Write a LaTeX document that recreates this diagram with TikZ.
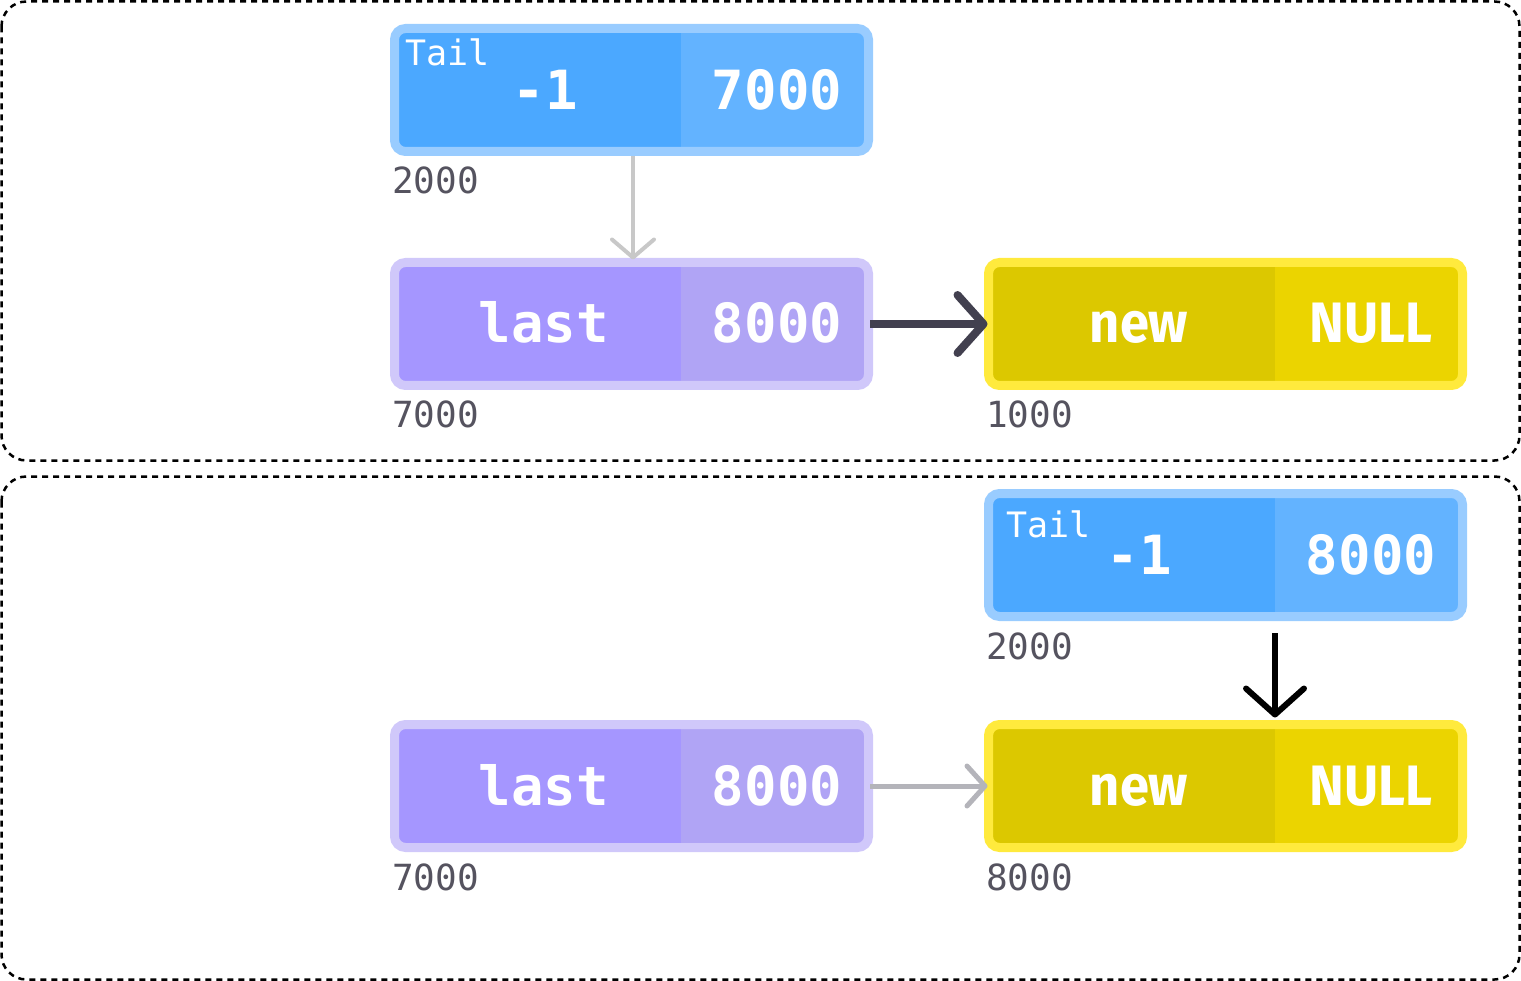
\documentclass[tikz,border=0pt]{standalone}
\usepackage{fontspec}
\setmonofont{DejaVu Sans Mono}
\newfontfamily\valsans[FakeStretch=0.92]{Fira Sans}
\usetikzlibrary{arrows.meta,calc}
\definecolor{bBorder}{HTML}{99CCFF}
\definecolor{bLeft}{HTML}{4BA8FF}
\definecolor{bRight}{HTML}{63B3FF}
\definecolor{pBorder}{HTML}{D0C8FA}
\definecolor{pLeft}{HTML}{A596FF}
\definecolor{pRight}{HTML}{B0A4F5}
\definecolor{yBorder}{HTML}{FFEA3D}
\definecolor{yLeft}{HTML}{DCC800}
\definecolor{yRight}{HTML}{EBD400}
\definecolor{darkArrow}{HTML}{42404F}
\definecolor{grayA}{HTML}{C8C8C8}
\definecolor{grayB}{HTML}{B4B4BA}
\definecolor{addrGray}{HTML}{55535F}
\tikzset{
  cell/.style n args={3}{draw=#1, fill=#3, line width=9pt, rounded corners=11pt,
    minimum width=474pt, minimum height=123pt, inner sep=0pt,
    path picture={\fill[#2, sharp corners] (path picture bounding box.south west) rectangle ([xshift=286.5pt]path picture bounding box.north west);}},
  panel/.style={draw=black, line width=2.5pt, dash pattern=on 6pt off 5pt, rounded corners=25pt},
  val/.style={text=white, inner sep=0pt, anchor=base, font=\fontsize{54}{54}\selectfont\ttfamily\bfseries},
  sval/.style={text=white, inner sep=0pt, anchor=base, font=\fontsize{57}{57}\selectfont\valsans\bfseries},
  tagtxt/.style={text=white, inner sep=0pt, anchor=base west, font=\fontsize{35}{35}\selectfont\ttfamily},
  addr/.style={text=addrGray, inner sep=0pt, anchor=base west, font=\fontsize{36}{36}\selectfont\ttfamily},
}
\begin{document}
\begin{tikzpicture}[x=1pt,y=-1pt]
\useasboundingbox (0,0) rectangle (1521,981);
% panels
\draw[panel] (1.5,1.5) rectangle (1519.5,460.5);
\draw[panel] (1.5,476.5) rectangle (1519.5,979.5);

% top panel
\node[cell={bBorder}{bLeft}{bRight}] (tail1) at (631.5,90) {};
\node[tagtxt] (tail1tag) at (405,66) {Tail};
\node[val] (tail1v) at (545,110) {-1};
\node[val] (tail1p) at (777,110) {7000};
\node[addr] (tail1a) at (392,194) {2000};

\node[cell={pBorder}{pLeft}{pRight}] (last1) at (631.5,324) {};
\node[val] (last1v) at (544,343) {last};
\node[val] (last1p) at (777,343) {8000};
\node[addr] (last1a) at (392,428) {7000};

\node[cell={yBorder}{yLeft}{yRight}] (new1) at (1225.5,324) {};
\node[sval] (new1v) at (1139,343) {new};
\node[sval] (new1p) at (1371,343) {NULL};
\node[addr] (new1a) at (986,428) {1000};

\draw[grayA, line width=4pt, shorten <=0pt, shorten >=-1.5pt,
  -{Straight Barb[length=18pt,width=42pt,round]}]
  ([xshift=1.5pt]tail1.south) -- ([xshift=1.5pt]last1.north);
\draw[darkArrow, line width=8pt, shorten <=-3pt, shorten >=-3.5pt,
  -{Straight Barb[length=26pt,width=58pt,round]}]
  (last1.east) -- (new1.west);

% bottom panel
\node[cell={bBorder}{bLeft}{bRight}] (tail2) at (1225.5,555) {};
\node[tagtxt] (tail2tag) at (1006,537) {Tail};
\node[val] (tail2v) at (1139,574) {-1};
\node[val] (tail2p) at (1371,574) {8000};
\node[addr] (tail2a) at (986,659) {2000};

\node[cell={pBorder}{pLeft}{pRight}] (last2) at (631.5,786) {};
\node[val] (last2v) at (544,805) {last};
\node[val] (last2p) at (777,805) {8000};
\node[addr] (last2a) at (392,890) {7000};

\node[cell={yBorder}{yLeft}{yRight}] (new2) at (1225.5,786) {};
\node[sval] (new2v) at (1139,805) {new};
\node[sval] (new2p) at (1371,805) {NULL};
\node[addr] (new2a) at (986,890) {8000};

\coordinate (bstart) at (1275,633);
\draw[black, line width=6pt, shorten >=2.5pt,
  -{Straight Barb[length=26pt,width=58pt,round]}]
  (bstart) -- (bstart |- new2.north);
\draw[grayB, line width=5pt, shorten <=-3pt, shorten >=-3.5pt,
  -{Straight Barb[length=18pt,width=40pt,round]}]
  (last2.east) -- (new2.west);
\end{tikzpicture}
\end{document}
